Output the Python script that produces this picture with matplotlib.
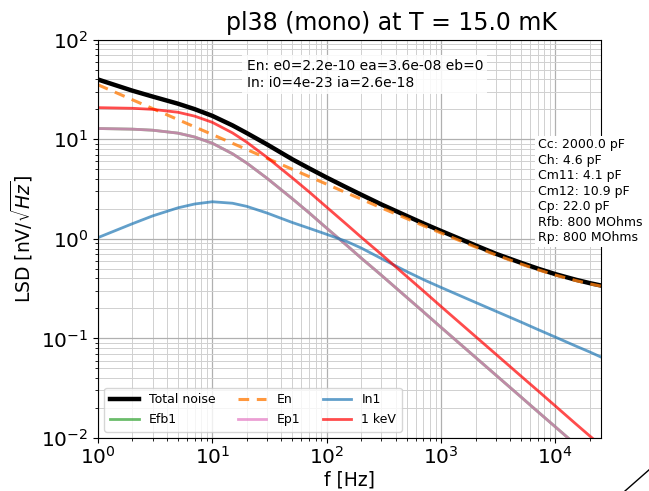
import matplotlib
matplotlib.use("Agg")
import matplotlib.pyplot as plt
from matplotlib.lines import Line2D

freq = [1, 2, 3, 5, 7, 10, 15, 20, 30, 50, 70, 100, 150, 200, 300, 500, 700,
        1000, 2000, 3000, 5000, 7000, 10000, 15000, 20000, 25000]

total_noise = [39.9, 30.8, 26.9, 22.8, 20.1, 17.2, 13.8, 11.55, 8.9, 6.3, 5.12, 4.13,
               3.27, 2.78, 2.22, 1.70, 1.43, 1.20, 0.86, 0.71, 0.575, 0.503, 0.442,
               0.389, 0.359, 0.340]
efb1 = [12.84, 12.65, 12.35, 11.54, 10.55, 9.13, 7.16, 5.77, 4.07, 2.53, 1.83, 1.28,
        0.858, 0.642, 0.432, 0.259, 0.185, 0.129, 0.0645, 0.043, 0.0258, 0.0184,
        0.0129, 0.0086, 0.00645, 0.0052]
en = [35.3, 24.96, 20.38, 15.79, 13.34, 11.17, 9.12, 7.90, 6.45, 5.00, 4.23, 3.54,
      2.89, 2.51, 2.05, 1.60, 1.357, 1.144, 0.828, 0.691, 0.558, 0.490, 0.4325,
      0.3816, 0.3533, 0.3351]
ep1 = [12.84, 12.65, 12.35, 11.54, 10.55, 9.13, 7.16, 5.77, 4.07, 2.53, 1.83, 1.28,
       0.858, 0.642, 0.432, 0.259, 0.185, 0.129, 0.0645, 0.043, 0.0258, 0.0184,
       0.0129, 0.0086, 0.00645, 0.0052]
in1 = [1.03, 1.42, 1.70, 2.05, 2.24, 2.36, 2.28, 2.12, 1.82, 1.46, 1.28, 1.11, 0.94,
       0.81, 0.635, 0.47, 0.39, 0.325, 0.23, 0.188, 0.146, 0.123, 0.103, 0.084,
       0.073, 0.065]
kev1 = [20.8, 20.5, 20.0, 18.7, 17.1, 14.8, 11.6, 9.35, 6.6, 4.1, 2.97, 2.08, 1.39,
        1.04, 0.70, 0.42, 0.30, 0.209, 0.1045, 0.0697, 0.0418, 0.0299, 0.0209,
        0.0139, 0.01045, 0.0084]

title = "pl38 (mono) at T = 15.0 mK"
noise_text = "En: e0=2.2e-10 ea=3.6e-08 eb=0\nIn: i0=4e-23 ia=2.6e-18"
param_text = ("Cc: 2000.0 pF\nCh: 4.6 pF\nCm11: 4.1 pF\nCm12: 10.9 pF\n"
              "Cp: 22.0 pF\nRfb: 800 MOhms\nRp: 800 MOhms")

fig = plt.figure(figsize=(6.49, 4.91), dpi=100)
ax = fig.add_axes([0.151, 0.108, 0.775, 0.811])

ax.plot(freq, total_noise, color="black", lw=3.2, label="Total noise")
ax.plot(freq, efb1, color="tab:green", lw=2, alpha=0.7, label="Efb1")
ax.plot(freq, en, color="tab:orange", lw=2.2, ls=(0, (3.5, 2.5)), alpha=0.8, label="En")
ax.plot(freq, ep1, color="tab:pink", lw=2, alpha=0.7, label="Ep1")
ax.plot(freq, in1, color="tab:blue", lw=2, alpha=0.7, label="In1")
ax.plot(freq, kev1, color="red", lw=2, alpha=0.7, label="1 keV")

ax.set_xscale("log")
ax.set_yscale("log")
ax.set_xlim(1, 2.5e4)
ax.set_ylim(1e-2, 1e2)
ax.grid(True, which="major", color="#b0b0b0", lw=0.9)
ax.grid(True, which="minor", color="#d0d0d0", lw=0.7)
ax.tick_params(labelsize=14.5)
ax.tick_params(axis="x", pad=2)
ax.set_xlabel("f [Hz]", fontsize=13.5, labelpad=2)
ax.set_ylabel(r"LSD [nV/$\sqrt{Hz}$]", fontsize=13.5)
fig.text(392 / 649, 1 - 23 / 491, title, fontsize=17, ha="center", va="center")

ax.legend(loc="lower left", ncol=3, fontsize=9, columnspacing=1.8,
          handlelength=2.3, borderpad=0.45, labelspacing=0.55)

fig.text(0.38, 0.879, noise_text, fontsize=10, va="top", ha="left",
         linespacing=1.25,
         bbox=dict(facecolor="white", edgecolor="none", alpha=0.85, pad=3))
fig.text(0.829, 0.718, param_text, fontsize=9, va="top", ha="left",
         linespacing=1.25, zorder=10,
         bbox=dict(facecolor="white", edgecolor="none", pad=2))

fig.add_artist(Line2D([0.963, 1.0], [0.0, 0.043], color="black", lw=1,
                      transform=fig.transFigure))

fig.savefig("out.png", dpi=100)
